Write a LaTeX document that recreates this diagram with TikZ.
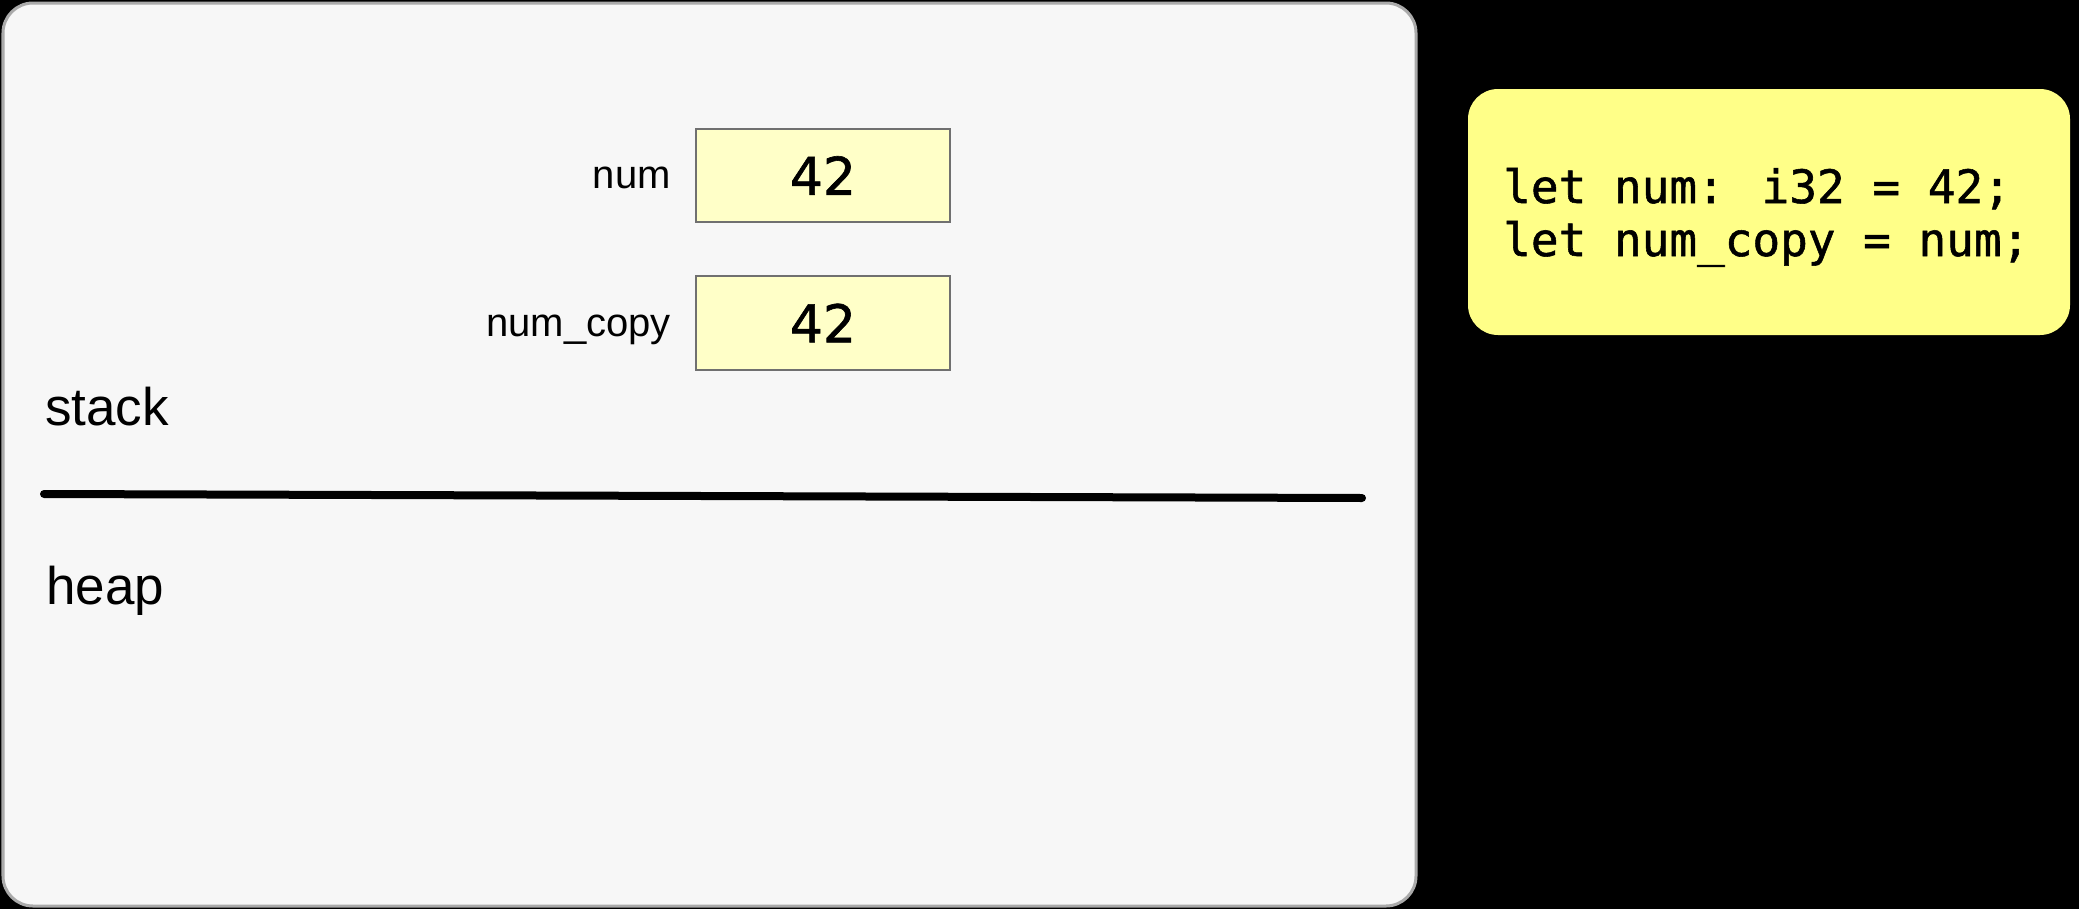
\documentclass[tikz,border=0pt]{standalone}
\usepackage{fontspec}
\setmainfont{Liberation Sans}
\newfontfamily\codefont[FakeBold=1.2]{DejaVu Sans Mono}
\newfontfamily\numfont[FakeBold=1.2]{DejaVu Sans}
\definecolor{panelfill}{HTML}{F7F7F7}
\definecolor{panelline}{HTML}{AAAAAA}
\definecolor{cellfill}{HTML}{FFFFC8}
\definecolor{cellline}{HTML}{707070}
\definecolor{codefill}{HTML}{FFFF88}
\begin{document}
\begin{tikzpicture}[x=1bp,y=-1bp,
  panel/.style={draw=panelline, line width=3bp, fill=panelfill, rounded corners=30bp},
  cell/.style={draw=cellline, line width=2.5bp, fill=cellfill, inner sep=0pt},
  cellnum/.style={font=\numfont\fontsize{52bp}{60bp}\selectfont},
  varlabel/.style={anchor=base east, inner sep=0pt, font=\fontsize{40bp}{46bp}\selectfont},
  region/.style={anchor=base west, inner sep=0pt, font=\fontsize{53bp}{60bp}\selectfont},
  codebox/.style={fill=codefill, rounded corners=30bp},
  codeline/.style={anchor=base west, inner sep=0pt, font=\codefont\fontsize{46bp}{53bp}\selectfont}]
\fill[black] (0,0) rectangle (2079,909);
\useasboundingbox (0,0) rectangle (2079,909);
% main panel
\draw[panel] (3,3) rectangle (1416,906);
% stack cells
\draw[cell] (696,129) rectangle (950,222);
\node[cellnum] (numval) at (823,175.5) {42};
\draw[cell] (696,276) rectangle (950,370);
\node[cellnum] (copyval) at (823,323) {42};
\node[varlabel] (numlbl) at (671,188) {num};
\node[varlabel] (copylbl) at (671,336) {num\_copy};
% region labels
\node[region] (stack) at (45,425) {stack};
\draw[line width=8bp, line cap=round] (44,494) -- (1362,498);
\node[region] (heap) at (46,604) {heap};
% code box
\fill[codebox] (1468,89) rectangle (2070,335);
\node[codeline] (code1) at (1503,203) {let num: i32 = 42;};
\node[codeline] (code2) at (1503,256) {let num\_copy = num;};
\end{tikzpicture}
\end{document}
